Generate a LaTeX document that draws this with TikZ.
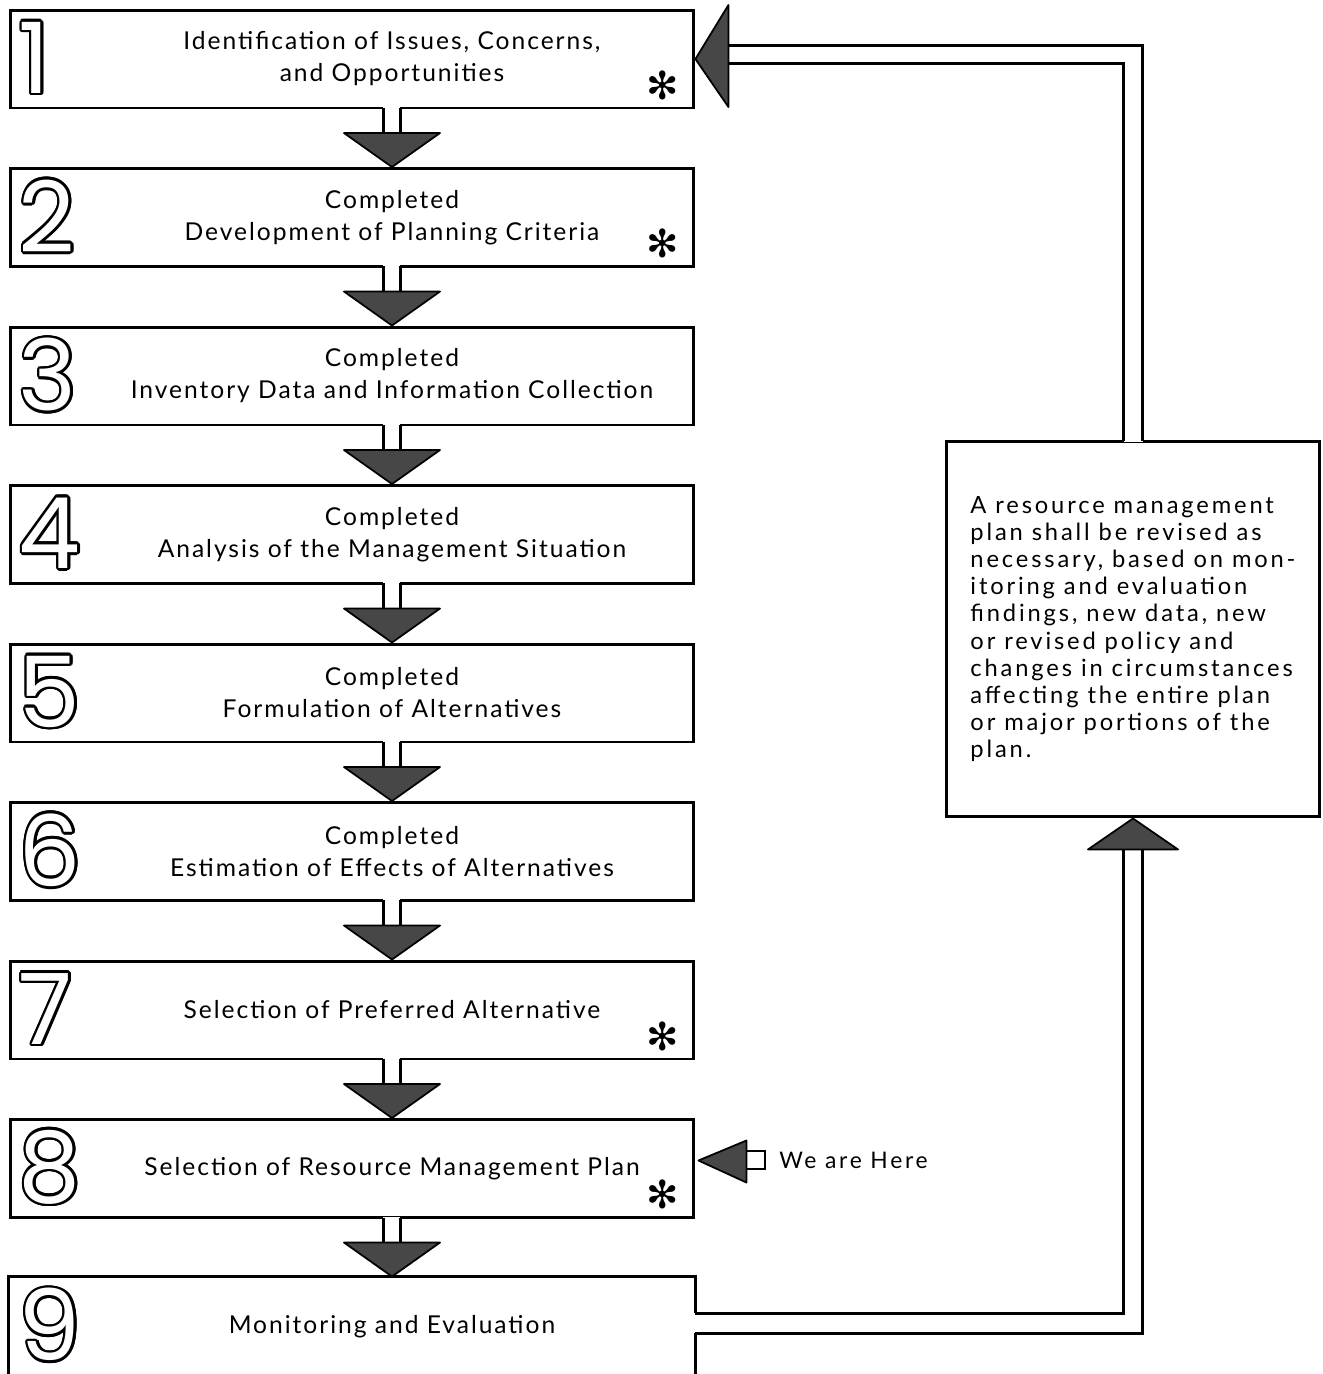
\documentclass[tikz,border=0pt]{standalone}
\usepackage{fontspec}
\setmainfont{Lato}[LetterSpace=8]
\newfontfamily\notefont{Lato}[LetterSpace=12]
\newfontfamily\numfont{Poppins}
\newfontfamily\symfont{DejaVu Sans}
\usepackage{contour}
\contourlength{1.5pt}
\usetikzlibrary{positioning}
\tikzset{
  stepbox/.style={draw,line width=1.7pt,minimum width=13.68cm,minimum height=1.96cm,inner sep=0pt},
  steptext/.style={align=center,font=\fontsize{14}{18.2}\selectfont},
  stepnum/.style={anchor=west,inner sep=0pt,font=\fontsize{56}{56}\numfont},
  starmark/.style={inner sep=0pt,font=\fontsize{22}{22}\symfont},
  shade/.style={fill=black!72,draw=black,line width=1pt,line join=round},
  pipe/.style={line width=1.7pt},
}
\begin{document}
\begin{tikzpicture}[x=0.02cm,y=-0.02cm]
\useasboundingbox (0,0) rectangle (1323,1374);
\foreach \i/\t in {1/{Identification of Issues, Concerns,\\and Opportunities},
                   2/{Completed\\Development of Planning Criteria},
                   3/{Completed\\Inventory Data and Information Collection},
                   4/{Completed\\Analysis of the Management Situation},
                   5/{Completed\\Formulation of Alternatives},
                   6/{Completed\\Estimation of Effects of Alternatives},
                   7/{Selection of Preferred Alternative},
                   8/{Selection of Resource Management Plan}}{
  \node[stepbox] (b\i) at (352,{59+158.5*(\i-1)}) {};
  \node[steptext] (t\i) at ([xshift=0.8cm]b\i.center) {\t};
  \node[stepnum] (d\i) at ([xshift=0.2cm]b\i.west) {\color{white}\contour{black}{\i}};
}
\node[stepbox,draw=none] (b9) at (352,1327) {};
\node[steptext] (t9) at ([xshift=0.8cm]b9.center) {Monitoring and Evaluation};
\node[stepnum] (d9) at ([xshift=0.2cm,yshift=0.02cm]b9.west) {\color{white}\contour{black}{9}};
\foreach \i in {1,2,7,8}
  \node[starmark] (s\i) at ([shift={(-33,26)}]b\i.east) {✻};
\foreach \i [count=\j from 2] in {1,...,8}{
  \path ([xshift=0.8cm]b\i.south) coordinate (p) ([xshift=0.8cm]b\j.north) coordinate (q);
  \fill[white] ([xshift=-0.17cm,yshift=-0.05cm]p) rectangle ([xshift=0.17cm,yshift=0.05cm]p);
  \draw[pipe] ([xshift=-0.17cm,yshift=0.03cm]p) -- ++(0,27);
  \draw[pipe] ([xshift=0.17cm,yshift=0.03cm]p) -- ++(0,27);
  \filldraw[shade] (q) -- ([shift={(-48,-34)}]q) -- ([shift={(48,-34)}]q) -- cycle;
}
\node[draw,line width=1.7pt,minimum width=7.48cm,minimum height=7.52cm,inner sep=0pt] (n) at (1133,629) {};
\node[align=left,font=\fontsize{13.5}{15.4}\notefont] (nt) at (n.center) {A resource management\\plan shall be revised as\\necessary, based on mon-\\itoring and evaluation\\findings, new data, new\\or revised policy and\\changes in circumstances\\affecting the entire plan\\or major portions of the\\plan.};
\fill[white] ([xshift=-0.19cm,yshift=-0.05cm]n.north) rectangle ([xshift=0.19cm,yshift=0.05cm]n.north);
\draw[pipe] ([shift={(33,-14)}]b1.east) -| ([xshift=0.19cm,yshift=-0.03cm]n.north);
\draw[pipe] ([shift={(33,4)}]b1.east) -| ([xshift=-0.19cm,yshift=-0.03cm]n.north);
\filldraw[shade] (b1.east) -- ([shift={(33,-54)}]b1.east) -- ([shift={(33,48)}]b1.east) -- cycle;
\draw[pipe] ([shift={(-9.5,31)}]n.south) |- ([shift={(0,-14)}]b9.east);
\draw[pipe] ([shift={(9.5,31)}]n.south) |- ([shift={(0,6)}]b9.east);
\filldraw[shade] (n.south) -- ([shift={(-45,31)}]n.south) -- ([shift={(45,31)}]n.south) -- cycle;
\draw[line width=1.7pt] ([shift={(0,-14)}]b9.east) -- (b9.north east) -- (b9.north west)
  -- (b9.south west) -- (b9.south east) -- ([shift={(0,6)}]b9.east);
\node[anchor=west,inner sep=0pt,font=\fontsize{13}{13}\notefont] (here) at (779,1160) {We are Here};
\draw[line width=1.2pt] ([xshift=-0.28cm,yshift=0.18cm]here.west) rectangle ([xshift=-0.68cm,yshift=-0.18cm]here.west);
\filldraw[shade] ([shift={(3,-8)}]b8.east) -- ([shift={(51,-28)}]b8.east) -- ([shift={(51,14)}]b8.east) -- cycle;
\end{tikzpicture}
\end{document}
